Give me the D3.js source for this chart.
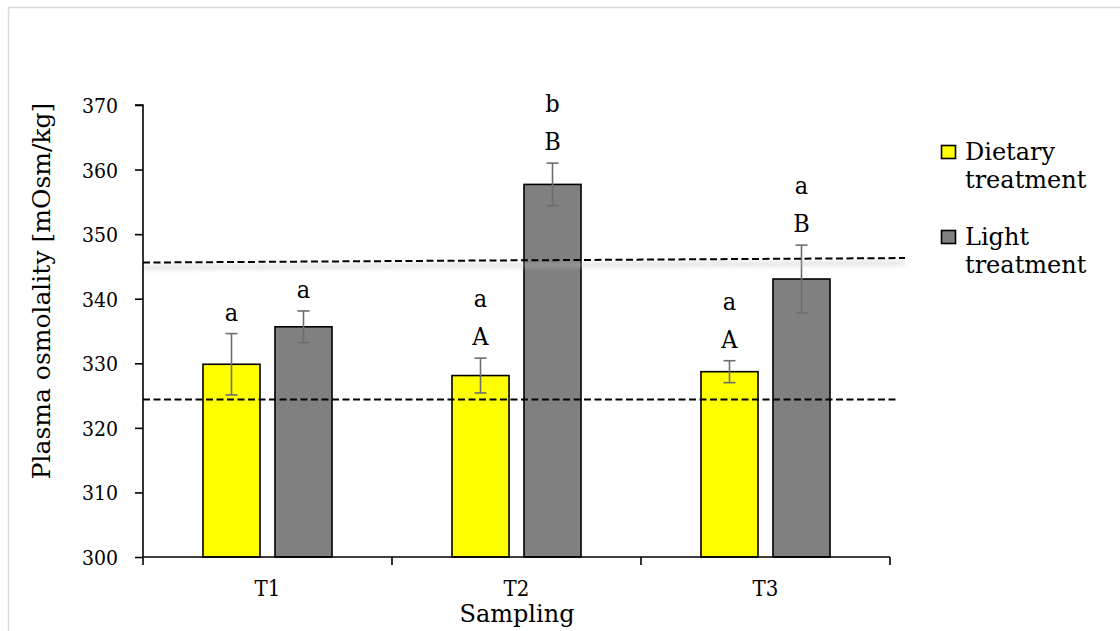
<!DOCTYPE html>
<html>
<head>
<meta charset="utf-8">
<script src="https://cdn.jsdelivr.net/npm/d3@7"></script>
<style>
  html, body { margin: 0; padding: 0; background: #fff; }
  svg { display: block; }
  text { font-family: "DejaVu Serif", serif; fill: #000; }
  .cond { font-family: "DejaVu Serif Condensed", "DejaVu Serif", serif; font-stretch: condensed; }
</style>
</head>
<body>
<svg id="chart" width="1120" height="631"></svg>
<script>
// Sampling points and treatment groups
const categories = ["T1", "T2", "T3"];
const seriesNames = ["Dietary treatment", "Light treatment"];

// Mean plasma osmolality (mOsm/kg) and standard errors
const dietaryMean = [329.85, 328.1, 328.7];
const dietarySE   = [4.75, 2.7, 1.7];
const lightMean   = [335.65, 357.7, 343.05];
const lightSE     = [2.45, 3.3, 5.25];

// Significance letters above each bar (top line first)
const dietaryLetters = [["a"], ["a", "A"], ["a", "A"]];
const lightLetters   = [["a"], ["b", "B"], ["a", "B"]];

// Reference range (dashed lines), value at left end and right end
const upperRef = [345.6, 346.3];
const lowerRef = [324.4, 324.4];

// Y axis ticks
const yTicks = [300, 310, 320, 330, 340, 350, 360, 370];

const seriesFill = ["#ffff00", "#808080"];

const svg = d3.select("#chart");

// light frame around the chart area
svg.append("rect")
  .attr("x", 8.5).attr("y", 7.5)
  .attr("width", 1300).attr("height", 800)
  .attr("fill", "none").attr("stroke", "#d9d9d9").attr("stroke-width", 1.5);

const plot = { left: 143, right: 890, top: 105, bottom: 557 };

const y = d3.scaleLinear().domain([300, 370]).range([plot.bottom, plot.top]);
const x0 = d3.scaleBand().domain(categories).range([plot.left, plot.right]).padding(0);
const x1 = d3.scaleBand().domain(seriesNames).range([0, x0.bandwidth()])
  .paddingInner(0.208).paddingOuter(0.833);

const rows = categories.map((c, i) => ({
  cat: c,
  bars: [
    { s: seriesNames[0], mean: dietaryMean[i], se: dietarySE[i], letters: dietaryLetters[i], fill: seriesFill[0] },
    { s: seriesNames[1], mean: lightMean[i], se: lightSE[i], letters: lightLetters[i], fill: seriesFill[1] }
  ]
}));

// shadow filter for the reference lines
const defs = svg.append("defs");
defs.append("filter").attr("id", "soft").attr("x", "-5%").attr("y", "-200%").attr("width", "110%").attr("height", "500%")
  .append("feGaussianBlur").attr("stdDeviation", 2);

// bars
const groups = svg.append("g").selectAll("g").data(rows).join("g")
  .attr("transform", d => `translate(${x0(d.cat)},0)`);

groups.selectAll("rect").data(d => d.bars).join("rect")
  .attr("x", d => x1(d.s))
  .attr("width", x1.bandwidth())
  .attr("y", d => y(d.mean))
  .attr("height", d => y(300) - y(d.mean))
  .attr("fill", d => d.fill)
  .attr("stroke", "#000").attr("stroke-width", 1.6);

// reference lines with soft shadow
const refG = svg.append("g");
[upperRef, lowerRef].forEach((r, i) => {
  const xEnd = i === 0 ? 905 : 898;
  refG.append("line")
    .attr("x1", plot.left).attr("x2", xEnd)
    .attr("y1", y(r[0]) + 5).attr("y2", y(r[1]) + 5)
    .attr("stroke", "#bdbdbd").attr("stroke-width", 5).attr("opacity", 0.4)
    .attr("filter", "url(#soft)");
  refG.append("line")
    .attr("x1", plot.left).attr("x2", xEnd)
    .attr("y1", y(r[0])).attr("y2", y(r[1]))
    .attr("stroke", "#000").attr("stroke-width", 2)
    .attr("stroke-dasharray", "7,3.5");
});

// error bars
const eb = groups.selectAll("g.err").data(d => d.bars).join("g").attr("class", "err");
const cx = d => x1(d.s) + x1.bandwidth() / 2;
eb.append("line")
  .attr("x1", cx).attr("x2", cx)
  .attr("y1", d => y(d.mean + d.se)).attr("y2", d => y(d.mean - d.se))
  .attr("stroke", "#6d6d6d").attr("stroke-width", 1.6);
eb.selectAll("line.cap").data(d => [[d, d.mean + d.se], [d, d.mean - d.se]]).join("line")
  .attr("class", "cap")
  .attr("x1", d => cx(d[0]) - 6).attr("x2", d => cx(d[0]) + 6)
  .attr("y1", d => y(d[1])).attr("y2", d => y(d[1]))
  .attr("stroke", "#6d6d6d").attr("stroke-width", 1.6);

// significance letters
eb.each(function(d) {
  const base = y(d.mean + d.se) - 13;
  const n = d.letters.length;
  d3.select(this).selectAll("text").data(d.letters).join("text")
    .attr("class", "cond")
    .attr("x", cx(d))
    .attr("y", (t, j) => base - (n - 1 - j) * 38)
    .attr("text-anchor", "middle")
    .attr("font-size", 25)
    .text(t => t);
});

// y axis
const yAxis = svg.append("g")
  .attr("transform", `translate(${plot.left},0)`)
  .call(d3.axisLeft(y).tickValues(yTicks).tickSize(8).tickPadding(17).tickFormat(d3.format("d")));
yAxis.attr("font-family", null);
yAxis.select(".domain").attr("stroke", "#000").attr("stroke-width", 1.6).attr("d", `M-8,${y(370)}H0V${y(300)}`);
yAxis.selectAll(".tick line").attr("stroke", "#000").attr("stroke-width", 1.6);
yAxis.selectAll(".tick text").attr("class", "cond").attr("font-size", 21).attr("fill", "#000")
  .attr("dy", "0.36em");

// x axis
const xAxis = svg.append("g")
  .attr("transform", `translate(0,${plot.bottom})`)
  .call(d3.axisBottom(x0).tickSize(0).tickPadding(23));
xAxis.attr("font-family", null);
xAxis.select(".domain").attr("stroke", "#000").attr("stroke-width", 1.6)
  .attr("d", `M${plot.left},0H${plot.right}`);
xAxis.selectAll(".tick text").attr("class", "cond").attr("font-size", 22).attr("fill", "#000");
// boundary ticks between categories
const bounds = categories.map(c => x0(c)).concat([x0(categories[categories.length - 1]) + x0.bandwidth()]);
xAxis.selectAll("line.bound").data(bounds).join("line")
  .attr("class", "bound")
  .attr("x1", d => d).attr("x2", d => d)
  .attr("y1", 0).attr("y2", 8)
  .attr("stroke", "#000").attr("stroke-width", 1.6);

// axis titles
svg.append("text")
  .attr("transform", `translate(50,291) rotate(-90)`)
  .attr("text-anchor", "middle")
  .attr("font-size", 25)
  .text("Plasma osmolality [mOsm/kg]");
svg.append("text")
  .attr("x", 517).attr("y", 622)
  .attr("text-anchor", "middle")
  .attr("font-size", 24)
  .text("Sampling");

// legend
const legend = svg.append("g");
const legendRows = [
  { fill: seriesFill[0], lines: ["Dietary", "treatment"], top: 145 },
  { fill: seriesFill[1], lines: ["Light", "treatment"], top: 230 }
];
legendRows.forEach((r, i) => {
  legend.append("rect")
    .attr("x", 941.5).attr("y", r.top + 0.5)
    .attr("width", 14).attr("height", 13)
    .attr("fill", r.fill).attr("stroke", "#000").attr("stroke-width", 1.6);
  legend.append("text")
    .attr("x", 965).attr("y", r.top + 15)
    .attr("font-size", 24)
    .selectAll("tspan").data(r.lines).join("tspan")
    .attr("x", 965).attr("dy", (t, j) => j === 0 ? 0 : 28)
    .text(t => t);
});
</script>
</body>
</html>
